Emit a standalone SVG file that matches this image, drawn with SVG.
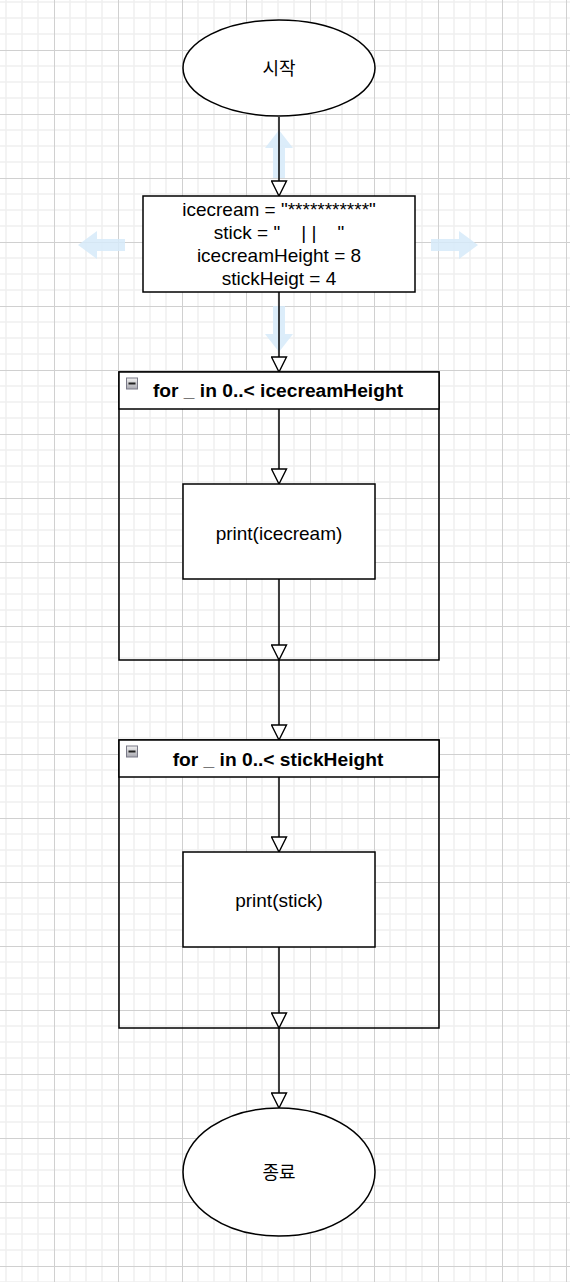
<svg xmlns="http://www.w3.org/2000/svg" width="570" height="1282" viewBox="0 0 570 1282">
<style>
.shape{fill:#ffffff;stroke:#000000;stroke-width:1.5}
.lbl{font-family:"Liberation Sans","Noto Sans CJK KR",Arial,sans-serif;font-size:19px;fill:#000000;text-anchor:middle;white-space:pre}
.ko{font-family:"Noto Sans CJK KR","Liberation Sans",sans-serif;font-size:18px;fill:#000000;text-anchor:middle}
.ttl{font-family:"Liberation Sans",Arial,sans-serif;font-size:19.2px;font-weight:bold;fill:#000000;text-anchor:middle}
.edge{fill:none;stroke:#000000;stroke-width:1.5}
.hint{fill:#d6eaf9;opacity:0.85}
</style>
<defs>
<pattern id="grid" patternUnits="userSpaceOnUse" x="-10" y="-14" width="64" height="64">
<path d="M16,0V64M32,0V64M48,0V64M0,16H64M0,32H64M0,48H64" stroke="#f0f0f0" stroke-width="1.5" fill="none"/>
<path d="M0.5,0V64M0,0.5H64" stroke="#d0d0d0" stroke-width="1" fill="none"/>
</pattern>
<marker id="arr" viewBox="0 0 17 17" refX="16" refY="8.5" markerWidth="17" markerHeight="17" markerUnits="userSpaceOnUse" orient="auto">
<path d="M1,1 L16,8.5 L1,16 Z" fill="#ffffff" stroke="#000000" stroke-width="1.4"/>
</marker>
<linearGradient id="btn" x1="0" y1="0" x2="0" y2="1">
<stop offset="0" stop-color="#f2f2f2"/>
<stop offset="1" stop-color="#a8a8b0"/>
</linearGradient>
</defs>
<rect width="570" height="1282" fill="#ffffff"/>
<rect width="570" height="1282" fill="url(#grid)"/>

<g id="hints">
<path class="hint" d="M279,130 L293,148 L285,148 L285,178 L273,178 L273,148 L265,148 Z"/>
<path class="hint" d="M279,352 L293,334 L285,334 L285,306 L273,306 L273,334 L265,334 Z"/>
<path class="hint" d="M78,245 L97,231 L97,239 L125,239 L125,251 L97,251 L97,259 Z"/>
<path class="hint" d="M478,245 L459,231 L459,239 L431,239 L431,251 L459,251 L459,259 Z"/>
</g>

<g id="connectors">
<path class="edge" d="M279,117 V196" marker-end="url(#arr)"/>
<path class="edge" d="M279,292 V372" marker-end="url(#arr)"/>
<path class="edge" d="M279,409 V484" marker-end="url(#arr)"/>
<path class="edge" d="M279,579 V660" marker-end="url(#arr)"/>
<path class="edge" d="M279,660 V740" marker-end="url(#arr)"/>
<path class="edge" d="M279,777 V852" marker-end="url(#arr)"/>
<path class="edge" d="M279,947 V1028" marker-end="url(#arr)"/>
<path class="edge" d="M279,1028 V1108" marker-end="url(#arr)"/>
</g>

<g id="start">
<ellipse class="shape" cx="279" cy="68" rx="96" ry="48"/>
<text class="ko" x="279" y="75">시작</text>
</g>

<g id="init">
<rect class="shape" x="143" y="196" width="272" height="96"/>
<text class="lbl" x="279" y="216">icecream = "***********"</text>
<text class="lbl" x="279" y="239">stick = "    | |    "</text>
<text class="lbl" x="279" y="262">icecreamHeight = 8</text>
<text class="lbl" x="279" y="285">stickHeigt = 4</text>
</g>

<g id="loop1">
<rect class="shape" x="119" y="372" width="320" height="288" style="fill:none"/>
<rect class="shape" x="119" y="372" width="320" height="37"/>
<rect x="126.5" y="378" width="11" height="11" fill="url(#btn)" stroke="#7a7a88" stroke-width="1"/>
<rect x="128.5" y="382.5" width="7" height="2" fill="#222222"/>
<text class="ttl" x="278" y="397">for _ in 0..&lt; icecreamHeight</text>
</g>

<g id="print1">
<rect class="shape" x="183" y="484" width="192" height="95"/>
<text class="lbl" x="279" y="540">print(icecream)</text>
</g>

<g id="loop2">
<rect class="shape" x="119" y="740" width="320" height="288" style="fill:none"/>
<rect class="shape" x="119" y="740" width="320" height="37"/>
<rect x="126.5" y="746" width="11" height="11" fill="url(#btn)" stroke="#7a7a88" stroke-width="1"/>
<rect x="128.5" y="750.5" width="7" height="2" fill="#222222"/>
<text class="ttl" x="278" y="766">for _ in 0..&lt; stickHeight</text>
</g>

<g id="print2">
<rect class="shape" x="183" y="852" width="192" height="95"/>
<text class="lbl" x="279" y="907">print(stick)</text>
</g>

<g id="end">
<ellipse class="shape" cx="279" cy="1172" rx="96" ry="64"/>
<text class="ko" x="279" y="1179">종료</text>
</g>
</svg>
